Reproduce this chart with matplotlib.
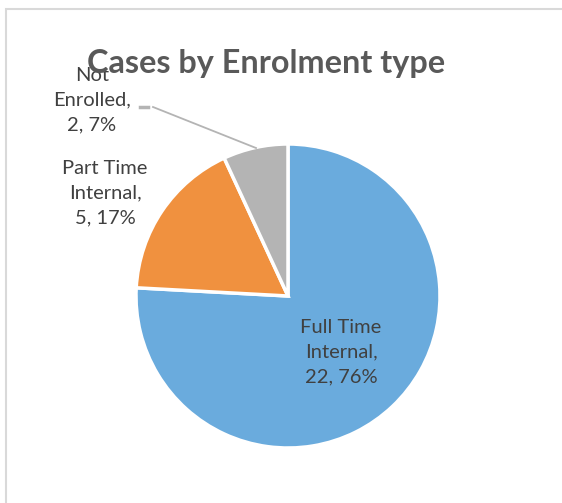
import matplotlib.pyplot as plt
from matplotlib.patches import Rectangle

# Data
categories = ["Full Time\nInternal", "Part Time\nInternal", "Not\nEnrolled"]
counts = [22, 5, 2]
colors = ["#6AABDD", "#F0913F", "#B4B4B4"]

W, H = 562, 503
fig = plt.figure(figsize=(W / 100, H / 100), dpi=100)
ax = fig.add_axes([0, 0, 1, 1])

# chart frame
fig.patches.append(Rectangle((6.5 / W, -0.1), 2, (H - 8.5) / H + 0.1,
                             transform=fig.transFigure, fill=False,
                             edgecolor="#D9D9D9", lw=1.5))

ax.pie(counts, colors=colors, startangle=90, counterclock=False,
       center=(288, H - 296), radius=152,
       wedgeprops=dict(edgecolor="white", linewidth=2.5))
# pie resets the limits, so set them afterwards
ax.set_xlim(0, W)
ax.set_ylim(0, H)
ax.set_aspect("equal")
ax.axis("off")

total = sum(counts)
labels = [f"{c},\n{v}, {round(100 * v / total)}%" for c, v in zip(categories, counts)]
label_pos = [(341, H - 352), (105, H - 193), (92, H - 100)]
for lab, (x, y) in zip(labels, label_pos):
    ax.text(x, y, lab, ha="center", va="center", fontsize=14.5,
            family="Lato", color="#404040", linespacing=1.55, zorder=3)

# leader line for the small slice
ax.plot([140, 148], [H - 107, H - 107], color="#B4B4B4", lw=2.5, zorder=3)
ax.plot([153, 256], [H - 107, H - 148], color="#B4B4B4", lw=1.3, zorder=3)

ax.text(266, H - 63, "Cases by Enrolment type", ha="center", va="center",
        fontsize=23.3, fontweight="bold", family="Lato", color="#595959", zorder=5)

fig.savefig("out.png", dpi=100)
